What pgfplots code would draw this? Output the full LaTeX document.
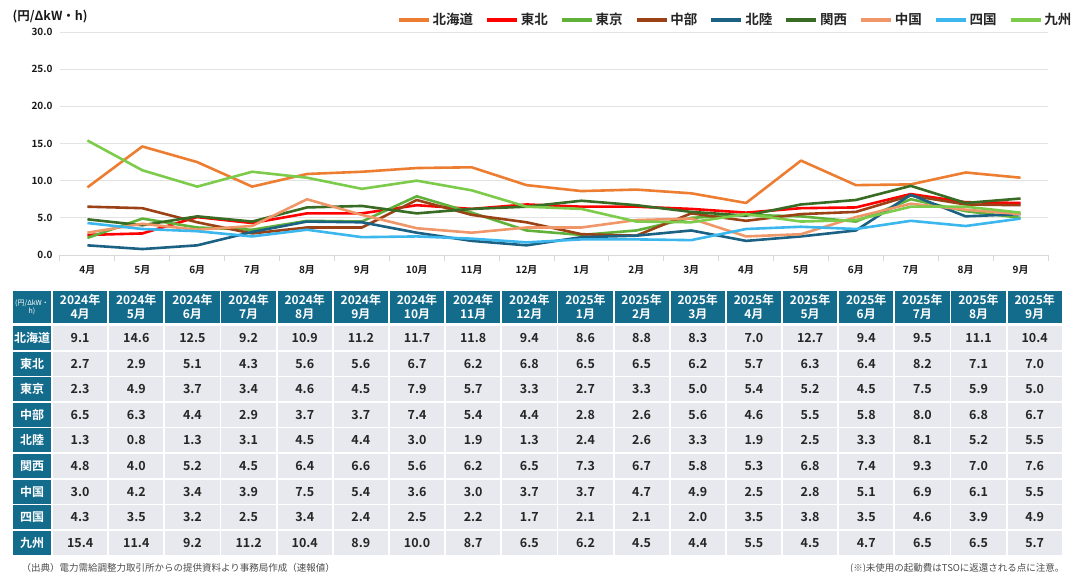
\documentclass[border=0pt]{standalone}
\usepackage{fontspec}
\setmainfont{Noto Sans CJK JP}[BoldFont={Noto Sans CJK JP Bold}]
\usepackage{pgfplots}
\usepackage{pgfplotstable}
\pgfplotsset{compat=1.18}

\definecolor{cHok}{HTML}{ED7D31}
\definecolor{cToh}{HTML}{FF0000}
\definecolor{cTok}{HTML}{5FB13A}
\definecolor{cChb}{HTML}{9A4215}
\definecolor{cHkr}{HTML}{1B6183}
\definecolor{cKan}{HTML}{386B23}
\definecolor{cChg}{HTML}{F0976A}
\definecolor{cShk}{HTML}{3BB7EE}
\definecolor{cKyu}{HTML}{7CCB4A}
\definecolor{hdr}{HTML}{146C8C}
\definecolor{cellbg}{HTML}{E8E9EE}

\pgfplotstableread{
x hok toh tok chb hkr kan chg shk kyu
0 9.1 2.7 2.3 6.5 1.3 4.8 3.0 4.3 15.4
1 14.6 2.9 4.9 6.3 0.8 4.0 4.2 3.5 11.4
2 12.5 5.1 3.7 4.4 1.3 5.2 3.4 3.2 9.2
3 9.2 4.3 3.4 2.9 3.1 4.5 3.9 2.5 11.2
4 10.9 5.6 4.6 3.7 4.5 6.4 7.5 3.4 10.4
5 11.2 5.6 4.5 3.7 4.4 6.6 5.4 2.4 8.9
6 11.7 6.7 7.9 7.4 3.0 5.6 3.6 2.5 10.0
7 11.8 6.2 5.7 5.4 1.9 6.2 3.0 2.2 8.7
8 9.4 6.8 3.3 4.4 1.3 6.5 3.7 1.7 6.5
9 8.6 6.5 2.7 2.8 2.4 7.3 3.7 2.1 6.2
10 8.8 6.5 3.3 2.6 2.6 6.7 4.7 2.1 4.5
11 8.3 6.2 5.0 5.6 3.3 5.8 4.9 2.0 4.4
12 7.0 5.7 5.4 4.6 1.9 5.3 2.5 3.5 5.5
13 12.7 6.3 5.2 5.5 2.5 6.8 2.8 3.8 4.5
14 9.4 6.4 4.5 5.8 3.3 7.4 5.1 3.5 4.7
15 9.5 8.2 7.5 8.0 8.1 9.3 6.9 4.6 6.5
16 11.1 7.1 5.9 6.8 5.2 7.0 6.1 3.9 6.5
17 10.4 7.0 5.0 6.7 5.5 7.6 5.5 4.9 5.7
}\data

\begin{document}
\begin{tikzpicture}
\useasboundingbox (0pt,0pt) rectangle (1072pt,-571pt);

\begin{axis}[
  at={(60pt,-255pt)}, anchor=south west,
  scale only axis, width=988pt, height=223pt,
  xmin=-0.5, xmax=17.5, ymin=0, ymax=30,
  ytick={0,5,...,30},
  yticklabel style={/pgf/number format/fixed, /pgf/number format/fixed zerofill, /pgf/number format/precision=1, /pgf/number format/assume math mode=true, xshift=-4pt},
  ymajorgrids, grid style={gray!22, line width=1pt},
  axis x line*=bottom, axis y line*=left,
  y axis line style={draw=none},
  x axis line style={-, gray!30, line width=1pt},
  xtick={0,...,17},
  xticklabels={4月,5月,6月,7月,8月,9月,10月,11月,12月,1月,2月,3月,4月,5月,6月,7月,8月,9月},
  minor xtick={-0.5,0.5,...,17.5},
  major tick length=0pt, minor tick length=6pt, tick align=outside,
  minor tick style={gray!30, line width=1pt},
  tick label style={font=\bfseries\fontsize{10}{12}\selectfont, text=black!90},
  xticklabel style={yshift=-7pt},
  clip=false,
  every axis plot/.append style={line width=2.6pt, line join=round, no markers},
  legend columns=9,
  legend style={draw=none, fill=none, at={(1.029,1.054)}, anchor=east,
    font=\bfseries\fontsize{13.5}{15}\selectfont, text=black!85,
    /tikz/every even column/.append style={column sep=10pt}},
  legend image code/.code={\draw[#1, line width=3.8pt] (0pt,0pt) -- (30pt,0pt);},
]
\addplot[cHok] table[x=x, y=hok] {\data}; \addlegendentry{北海道}
\addplot[cToh] table[x=x, y=toh] {\data}; \addlegendentry{東北}
\addplot[cTok] table[x=x, y=tok] {\data}; \addlegendentry{東京}
\addplot[cChb] table[x=x, y=chb] {\data}; \addlegendentry{中部}
\addplot[cHkr] table[x=x, y=hkr] {\data}; \addlegendentry{北陸}
\addplot[cKan] table[x=x, y=kan] {\data}; \addlegendentry{関西}
\addplot[cChg] table[x=x, y=chg] {\data}; \addlegendentry{中国}
\addplot[cShk] table[x=x, y=shk] {\data}; \addlegendentry{四国}
\addplot[cKyu] table[x=x, y=kyu] {\data}; \addlegendentry{九州}
\end{axis}

\node[anchor=west, font=\bfseries\fontsize{12.5}{14}\selectfont, text=black!90] at (9pt,-17pt) {(円/ΔkW・h)};

% table header
\fill[hdr] (13pt,-291pt) rectangle (51pt,-323pt);
\node[align=center, text=white, font=\fontsize{7}{8}\selectfont] at (32pt,-307pt) {(円/ΔkW・\\h)};
\foreach \c/\yy/\m in {0/2024/4,1/2024/5,2/2024/6,3/2024/7,4/2024/8,5/2024/9,6/2024/10,7/2024/11,8/2024/12,9/2025/1,10/2025/2,11/2025/3,12/2025/4,13/2025/5,14/2025/6,15/2025/7,16/2025/8,17/2025/9}{
  \pgfmathsetmacro{\xa}{53+56.15*\c}
  \pgfmathsetmacro{\xb}{\xa+54.3}
  \pgfmathsetmacro{\xm}{\xa+27.15}
  \fill[hdr] (\xa pt,-291pt) rectangle (\xb pt,-323pt);
  \node[align=center, text=white, font=\bfseries\fontsize{12}{13.5}\selectfont] at (\xm pt,-307pt) {\yy 年\\\m 月};
}
% table body
\foreach \r/\nm/\col in {0/北海道/hok,1/東北/toh,2/東京/tok,3/中部/chb,4/北陸/hkr,5/関西/kan,6/中国/chg,7/四国/shk,8/九州/kyu}{
  \pgfmathsetmacro{\ya}{326+25.6*\r}
  \pgfmathsetmacro{\yb}{\ya+24}
  \pgfmathsetmacro{\ym}{\ya+12}
  \fill[hdr] (13pt,-\ya pt) rectangle (51pt,-\yb pt);
  \node[text=white, font=\bfseries\fontsize{12}{14}\selectfont] at (32pt,-\ym pt) {\nm};
  \foreach \c in {0,...,17}{
    \pgfmathsetmacro{\xa}{53+56.15*\c}
    \pgfmathsetmacro{\xb}{\xa+54.3}
    \pgfmathsetmacro{\xm}{\xa+27.15}
    \fill[cellbg] (\xa pt,-\ya pt) rectangle (\xb pt,-\yb pt);
    \pgfplotstablegetelem{\c}{\col}\of\data
    \node[text=black!85, font=\bfseries\fontsize{12.5}{14}\selectfont] at (\xm pt,-\ym pt) {\pgfplotsretval};
  }
}

\node[anchor=north west, font=\fontsize{9.5}{11}\selectfont, text=black!70] at (18pt,-560pt) {（出典）電力需給調整力取引所からの提供資料より事務局作成（速報値）};
\node[anchor=north east, font=\fontsize{9.5}{11}\selectfont, text=black!70] at (1068pt,-560pt) {(※)未使用の起動費はTSOに返還される点に注意。};
\end{tikzpicture}
\end{document}
